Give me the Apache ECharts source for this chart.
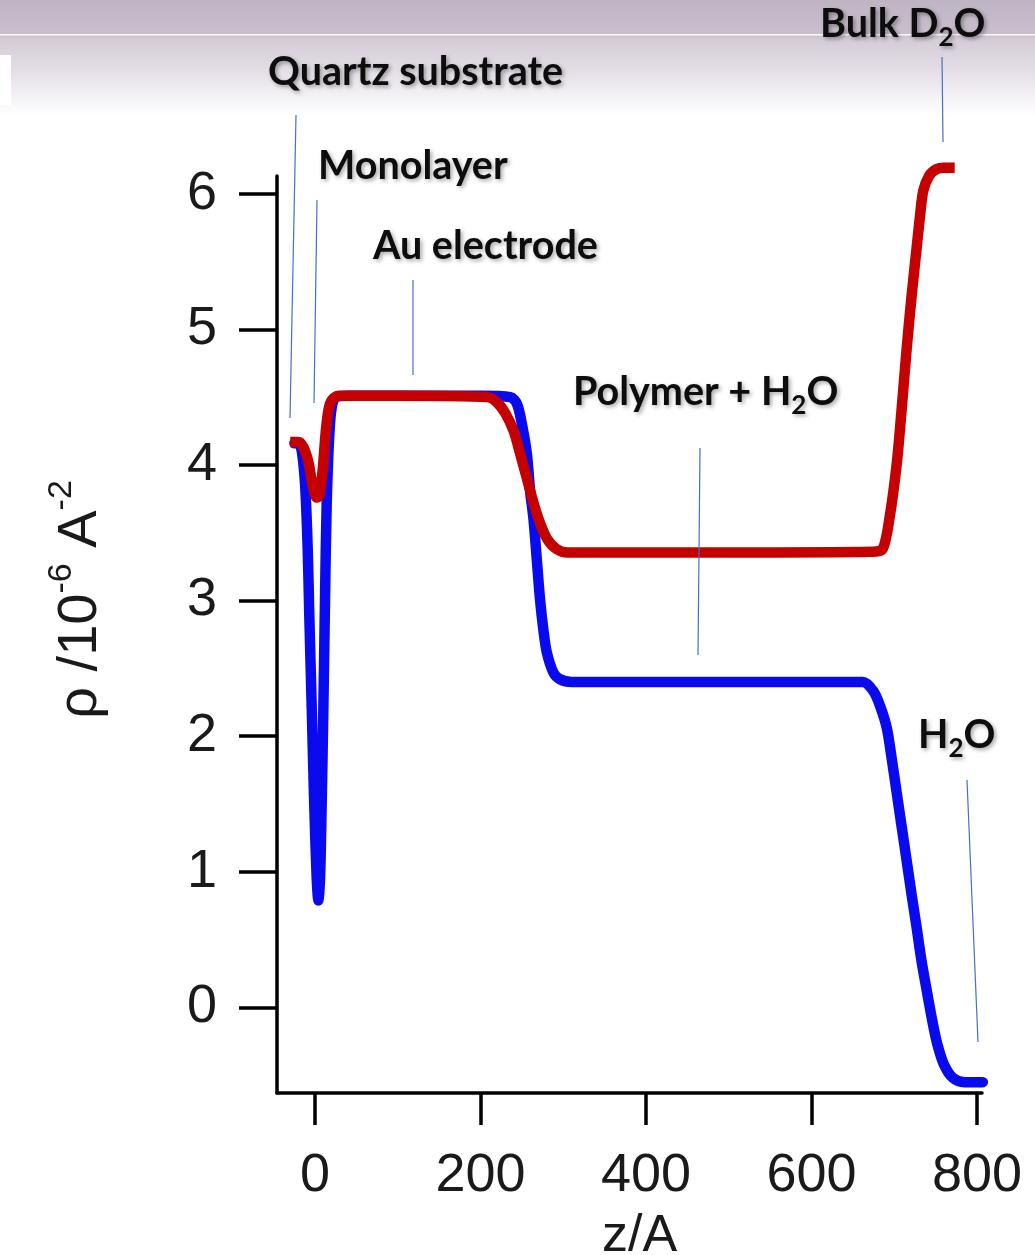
<!DOCTYPE html>
<html>
<head>
<meta charset="utf-8">
<script src="https://cdn.jsdelivr.net/npm/echarts@6/dist/echarts.min.js"></script>
<style>
html,body{margin:0;padding:0;background:#fff;}
#chart{width:1035px;height:1255px;}
</style>
</head>
<body>
<div id="chart"></div>
<script>
// ---- data ----
const xTicks = [0, 200, 400, 600, 800];
const yTicks = [0, 1, 2, 3, 4, 5, 6];

// H2O contrast (blue)
const zH2O = [-25, -20, -16, -12, -9, -7, -4, -1, 2, 4, 6, 8, 10, 12, 14, 17, 20, 25, 40, 200, 236, 244, 250, 256, 260, 264, 268, 272, 276, 280, 288, 296, 310, 500, 662, 675, 683, 691, 697, 703, 709, 715, 721, 727, 733, 740, 746, 752, 760, 771, 785, 807];
const rhoH2O = [4.16, 4.16, 4.1, 3.85, 3.4, 2.9, 2.2, 1.5, 0.95, 0.79, 0.95, 1.5, 2.2, 3.0, 3.7, 4.2, 4.42, 4.5, 4.51, 4.51, 4.5, 4.45, 4.3, 4.08, 3.8, 3.6, 3.3, 3.0, 2.78, 2.62, 2.47, 2.42, 2.4, 2.4, 2.4, 2.33, 2.22, 2.06, 1.83, 1.58, 1.33, 1.08, 0.83, 0.59, 0.34, 0.1, -0.1, -0.27, -0.42, -0.52, -0.55, -0.55];

// Bulk D2O contrast (red)
const zD2O = [-30, -20, -14, -8, -3, 2, 5, 9, 13, 17, 22, 30, 100, 208, 220, 230, 240, 248, 256, 264, 272, 281, 292, 305, 320, 500, 675, 686, 694, 703, 709, 715, 721, 727, 731, 735, 742, 751, 760, 773];
const rhoD2O = [4.17, 4.17, 4.13, 4.02, 3.85, 3.76, 3.77, 3.95, 4.25, 4.43, 4.49, 4.51, 4.51, 4.5, 4.46, 4.38, 4.25, 4.08, 3.9, 3.72, 3.57, 3.45, 3.38, 3.355, 3.355, 3.355, 3.36, 3.38, 3.6, 4.01, 4.42, 4.86, 5.25, 5.6, 5.83, 6.02, 6.13, 6.18, 6.19, 6.19];

const annotations = ['Quartz substrate', 'Monolayer', 'Au electrode', 'Polymer + H', 'Bulk D', 'H'];

// ---- chart ----
const chart = echarts.init(document.getElementById('chart'), null, {renderer: 'canvas'});
const pairs = (xs, ys) => xs.map((x, i) => [x, ys[i]]);

const annFont = 'Lato, "Open Sans", sans-serif';
const axFont = '"Liberation Sans", Arial, sans-serif';
const shadow = {textShadowColor: 'rgba(0,0,0,0.35)', textShadowBlur: 4, textShadowOffsetX: 2, textShadowOffsetY: 2};
const main = Object.assign({fontSize: 39.5, fontWeight: 'bold', fontFamily: annFont, fill: '#0d0d0d', lineHeight: 46}, shadow);
const sub = Object.assign({fontSize: 26, fontWeight: 'bold', fontFamily: annFont, fill: '#0d0d0d', lineHeight: 18, padding: [28, 0, 0, 0]}, shadow);

function annText(x, y, text) {
  return {
    type: 'text', x: x, y: y, z: 100,
    style: Object.assign({
      text: text, verticalAlign: 'middle', align: 'left',
      rich: {m: main, s: sub}
    }, shadow, {fontSize: 39.5, fontWeight: 'bold', fontFamily: annFont, fill: '#0d0d0d'})
  };
}
function leader(x1, y1, x2, y2) {
  return {type: 'line', z: 99, shape: {x1: x1, y1: y1, x2: x2, y2: y2}, style: {stroke: '#4472c4', lineWidth: 1.2}};
}

const option = {
  animation: false,
  backgroundColor: {
    type: 'linear', x: 0, y: 0, x2: 0, y2: 1,
    colorStops: [
      {offset: 0, color: '#bfb4c4'},
      {offset: 0.027, color: '#c9bfcc'},
      {offset: 0.032, color: '#d4ccd7'},
      {offset: 0.055, color: '#e3dde6'},
      {offset: 0.075, color: '#f3f0f4'},
      {offset: 0.092, color: '#ffffff'},
      {offset: 1, color: '#ffffff'}
    ]
  },
  grid: {left: 277, right: 53, top: 176, bottom: 162, containLabel: false, outerBoundsMode: 'none'},
  xAxis: {
    type: 'value', min: -46, max: 806,
    name: 'z/A', nameLocation: 'middle', nameGap: 118,
    nameTextStyle: {fontSize: 52, color: '#1a1a1a', fontFamily: axFont, padding: [0, 0, 0, 20]},
    axisLine: {onZero: false, lineStyle: {color: '#000', width: 3.5}},
    axisTick: {show: true, inside: false, length: 32, customValues: xTicks, lineStyle: {color: '#000', width: 3.5}},
    axisLabel: {customValues: xTicks, margin: 56, fontSize: 54, color: '#1a1a1a', fontFamily: axFont},
    splitLine: {show: false}
  },
  yAxis: {
    type: 'value', min: -0.63, max: 6.13,
    name: '{a|ρ /10}{s|-6}{a| A}{s|-2}', nameLocation: 'middle', nameGap: 168, nameRotate: 90,
    nameTextStyle: {
      color: '#1a1a1a', padding: [0, 0, 0, 70],
      rich: {
        a: {fontSize: 56, color: '#1a1a1a', fontFamily: axFont, lineHeight: 64, verticalAlign: 'bottom'},
        s: {fontSize: 34, color: '#1a1a1a', fontFamily: axFont, lineHeight: 64, verticalAlign: 'top'}
      }
    },
    axisLine: {onZero: false, lineStyle: {color: '#000', width: 3.5}},
    axisTick: {show: true, inside: false, length: 38, customValues: yTicks, lineStyle: {color: '#000', width: 3.5}},
    axisLabel: {customValues: yTicks, margin: 60, fontSize: 54, color: '#1a1a1a', fontFamily: axFont},
    splitLine: {show: false}
  },
  series: [
    {
      name: 'H2O', type: 'line', data: pairs(zH2O, rhoH2O), showSymbol: false,
      smooth: 0.3, clip: false,
      lineStyle: {color: '#0a0aee', width: 10.5, cap: 'round', join: 'round'}, z: 2
    },
    {
      name: 'D2O', type: 'line', data: pairs(zD2O, rhoD2O), showSymbol: false,
      smooth: 0.3, clip: false,
      lineStyle: {color: '#c40000', width: 10.5, cap: 'butt', join: 'round'}, z: 3
    }
  ],
  graphic: [
    {type: 'rect', z: 1, shape: {x: 0, y: 34, width: 1035, height: 1.5}, style: {fill: 'rgba(255,255,255,0.9)'}},
    {type: 'rect', z: 1, shape: {x: 0, y: 55, width: 11, height: 50}, style: {fill: '#ffffff'}},
    annText(268, 72, '{m|' + annotations[0] + '}'),
    annText(318, 166, '{m|' + annotations[1] + '}'),
    annText(373, 246, '{m|' + annotations[2] + '}'),
    annText(573, 392, '{m|' + annotations[3] + '}{s|2}{m|O}'),
    annText(820, 24, '{m|' + annotations[4] + '}{s|2}{m|O}'),
    annText(918, 735, '{m|' + annotations[5] + '}{s|2}{m|O}'),
    leader(296, 115, 290, 418),
    leader(317, 200, 314, 403),
    leader(413, 280, 413, 375),
    leader(700, 448, 698, 655),
    leader(942, 57, 943, 142),
    leader(967, 780, 978, 1042)
  ]
};
chart.setOption(option);
</script>
</body>
</html>
